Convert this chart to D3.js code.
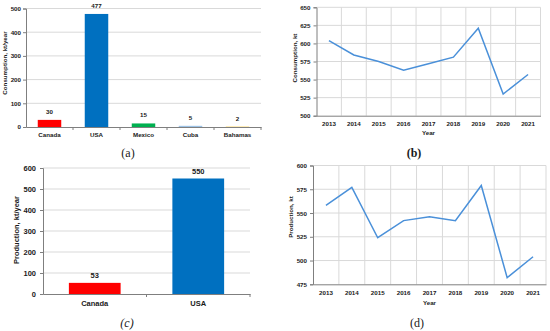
<!DOCTYPE html>
<html><head><meta charset="utf-8">
<script src="https://cdn.jsdelivr.net/npm/d3@7"></script>
<style>
body{margin:0;background:#fff;}
svg text{font-family:"Liberation Sans",Arial,sans-serif;font-weight:bold;fill:#1a1a1a;}
svg text.cap{font-family:"Liberation Serif","Times New Roman",serif;font-weight:normal;font-size:12px;}
</style>
</head><body>
<svg id="c" width="550" height="331"></svg>
<script>
// Panel (a): consumption by country
const consCountries = ["Canada","USA","Mexico","Cuba","Bahamas"];
const consValues = [30,477,15,5,2];
const consColors = ["#ff0000","#0070c0","#00b050","#9dc3e6","#ffd966"];
const consTicks = [0,100,200,300,400,500];
// Panel (b): consumption over years
const years = ["2013","2014","2015","2016","2017","2018","2019","2020","2021"];
const consYearly = [604,584,575,563,572,581,621,530,557];
const consYearTicks = [500,525,550,575,600,625,650];
// Panel (c): production by country
const prodCountries = ["Canada","USA"];
const prodValues = [53,550];
const prodColors = ["#ff0000","#0070c0"];
const prodTicks = [0,100,200,300,400,500,600];
// Panel (d): production over years
const prodYearly = [558,577,524,542,546,542,579,482,504];
const prodYearTicks = [475,500,525,550,575,600];

const svg = d3.select("#c");
const grid = "#d9d9d9", axisCol = "#7f7f7f", lineCol = "#4a90d9";

function barPanel(o){
  const g = svg.append("g");
  const x = d3.scaleBand().domain(o.cats).range([o.x0,o.x1]);
  const y = d3.scaleLinear().domain([0,o.max]).range([o.y0,o.y1]);
  g.selectAll("line.gy").data(o.ticks.filter(t=>t>0)).join("line")
    .attr("x1",o.x0).attr("x2",o.x1).attr("y1",d=>y(d)).attr("y2",d=>y(d))
    .attr("stroke",grid).attr("stroke-width",1);
  g.selectAll("rect").data(o.vals).join("rect")
    .attr("x",(d,i)=>x(o.cats[i])+x.bandwidth()/4).attr("width",x.bandwidth()/2)
    .attr("y",d=>y(d)).attr("height",d=>o.y0-y(d)).attr("fill",(d,i)=>o.colors[i]);
  g.selectAll("text.v").data(o.vals).join("text")
    .attr("x",(d,i)=>x(o.cats[i])+x.bandwidth()/2).attr("y",d=>y(d)-o.vgap)
    .attr("text-anchor","middle").attr("font-size",o.fs).text(d=>d);
  const ya = d3.axisLeft(y).tickValues(o.ticks).tickSize(3).tickPadding(o.ypad);
  const yg = g.append("g").attr("transform",`translate(${o.x0},0)`).call(ya);
  yg.selectAll("text").attr("font-size",o.fs);
  yg.selectAll("line,path").attr("stroke",axisCol);
  const xa = d3.axisBottom(x).tickSize(0).tickPadding(o.xpad);
  const xg = g.append("g").attr("transform",`translate(0,${o.y0})`).call(xa);
  xg.selectAll("text").attr("font-size",o.fs);
  xg.select("path").attr("stroke",axisCol);
  g.selectAll("line.bt").data(o.cats).join("line")
    .attr("x1",d=>x(d)+x.bandwidth()).attr("x2",d=>x(d)+x.bandwidth())
    .attr("y1",o.y0).attr("y2",o.y0+3).attr("stroke",axisCol);
  g.append("text").attr("transform",`translate(${o.tx},${o.ty}) rotate(-90)`)
    .attr("text-anchor","middle").attr("font-size",o.fs).text(o.title);
}

function linePanel(o){
  const g = svg.append("g");
  const x = d3.scaleBand().domain(years).range([o.x0,o.x1]);
  const y = d3.scaleLinear().domain([o.min,o.max]).range([o.y0,o.y1]);
  g.selectAll("line.gy").data(o.ticks.filter(t=>t>o.min)).join("line")
    .attr("x1",o.x0).attr("x2",o.x1).attr("y1",d=>y(d)).attr("y2",d=>y(d))
    .attr("stroke",grid);
  g.selectAll("line.gx").data(years).join("line")
    .attr("x1",d=>x(d)+x.bandwidth()).attr("x2",d=>x(d)+x.bandwidth())
    .attr("y1",o.y0).attr("y2",o.y1).attr("stroke",grid);
  const line = d3.line().x((d,i)=>x(years[i])+x.bandwidth()/2).y(d=>y(d));
  g.append("path").datum(o.vals).attr("d",line).attr("fill","none")
    .attr("stroke",lineCol).attr("stroke-width",1.5);
  const ya = d3.axisLeft(y).tickValues(o.ticks).tickSize(3).tickPadding(3);
  const yg = g.append("g").attr("transform",`translate(${o.x0},0)`).call(ya);
  yg.selectAll("text").attr("font-size",o.fs);
  yg.selectAll("line,path").attr("stroke",axisCol);
  const xa = d3.axisBottom(x).tickSize(0).tickPadding(o.xpad);
  const xg = g.append("g").attr("transform",`translate(0,${o.y0})`).call(xa);
  xg.selectAll("text").attr("font-size",o.fs);
  xg.select("path").attr("stroke",axisCol);
  g.append("text").attr("transform",`translate(${o.tx},${o.ty}) rotate(-90)`)
    .attr("text-anchor","middle").attr("font-size",o.fs).text(o.title);
  g.append("text").attr("x",(o.x0+o.x1)/2).attr("y",o.yearY)
    .attr("text-anchor","middle").attr("font-size",o.fs).text("Year");
}

barPanel({cats:consCountries,vals:consValues,colors:consColors,ticks:consTicks,max:500,
  x0:26,x1:261,y0:127,y1:8.5,fs:6.2,vgap:6,xpad:6,ypad:2,
  title:"Consumption, kt/year",tx:7,ty:63});
linePanel({vals:consYearly,ticks:consYearTicks,min:500,max:650,
  x0:316.5,x1:540.5,y0:115.7,y1:7.3,fs:6.2,xpad:6,
  title:"Consumption, kt",tx:297,ty:58,yearY:135});
barPanel({cats:prodCountries,vals:prodValues,colors:prodColors,ticks:prodTicks,max:600,
  x0:43,x1:250,y0:294,y1:168,fs:7.5,vgap:5,xpad:7,ypad:4,
  title:"Production, kt/year",tx:19,ty:230});
linePanel({vals:prodYearly,ticks:prodYearTicks,min:475,max:600,
  x0:313,x1:546,y0:284.3,y1:165.5,fs:6.2,xpad:6,
  title:"Production, kt",tx:293,ty:217,yearY:305});

svg.append("text").attr("class","cap").attr("x",128).attr("y",157).attr("text-anchor","middle").text("(a)");
svg.append("text").attr("class","cap").attr("x",414).attr("y",157).attr("text-anchor","middle").style("font-weight","bold").text("(b)");
svg.append("text").attr("class","cap").attr("x",127).attr("y",327).attr("text-anchor","middle").style("font-style","italic").text("(c)");
svg.append("text").attr("class","cap").attr("x",417).attr("y",327).attr("text-anchor","middle").text("(d)");
</script>
</body></html>
